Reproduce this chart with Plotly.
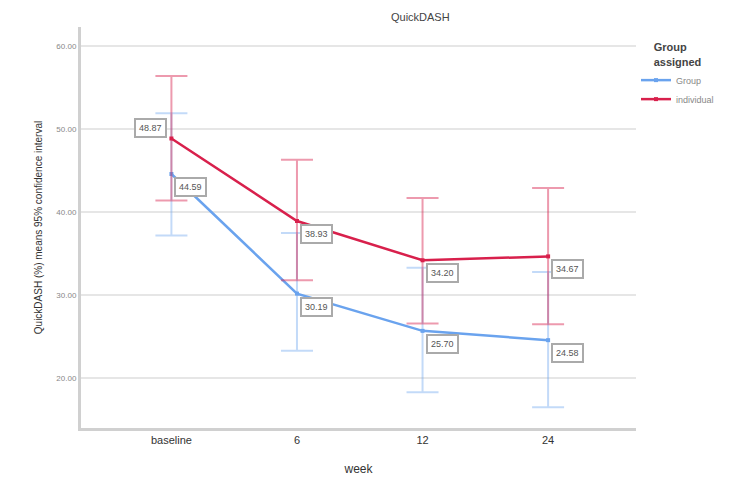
import plotly.graph_objects as go

weeks = ["baseline", "6", "12", "24"]

group_mean = [44.59, 30.19, 25.70, 24.58]
group_upper = [51.90, 37.50, 33.30, 32.80]
group_lower = [37.20, 23.30, 18.30, 16.50]

indiv_mean = [48.87, 38.93, 34.20, 34.67]
indiv_upper = [56.40, 46.30, 41.70, 42.90]
indiv_lower = [41.40, 31.80, 26.60, 26.50]

BLUE = "#6aa3ee"
RED = "#d8204c"

fig = go.Figure()


def add_series(name, mean, upper, lower, color, err_color):
    fig.add_trace(go.Scatter(
        x=weeks, y=mean, name=name, mode="lines+markers",
        line=dict(color=color, width=2.5),
        marker=dict(color=color, size=4, symbol="square"),
        error_y=dict(
            type="data", symmetric=False,
            array=[u - m for u, m in zip(upper, mean)],
            arrayminus=[m - l for m, l in zip(mean, lower)],
            color=err_color, thickness=2, width=16,
        ),
    ))


add_series("Group", group_mean, group_upper, group_lower, BLUE, "rgba(106,163,238,0.40)")
add_series("individual", indiv_mean, indiv_upper, indiv_lower, RED, "rgba(216,32,76,0.45)")

# value boxes next to each point (x given as category index)
for i, w in enumerate(weeks):
    for series, mean in (("group", group_mean), ("indiv", indiv_mean)):
        left = (series == "indiv" and i == 0)
        fig.add_annotation(
            x=i, y=mean[i], text=f"{mean[i]:.2f}", showarrow=False,
            xanchor="right" if left else "left",
            yanchor="bottom" if left else "top",
            xshift=-4 if left else 3, yshift=1 if left else -3,
            font=dict(family="Liberation Sans, Arial", size=9, color="#555"),
            bgcolor="white", bordercolor="#aaaaaa", borderwidth=2, borderpad=3,
        )

fig.update_layout(
    width=731, height=488,
    margin=dict(l=81, r=91, t=27, b=60),
    paper_bgcolor="white", plot_bgcolor="white",
    font=dict(family="Liberation Sans, Arial", color="#333"),
    title=dict(text="QuickDASH", x=0.575, xanchor="center", y=0.965, yanchor="middle",
               font=dict(size=11, color="#444")),
    showlegend=True,
    legend=dict(
        x=1.0, xanchor="left", y=0.975, yanchor="top",
        title=dict(text="<b>Group<br>assigned</b>", side="top center",
                   font=dict(size=11, color="#444")),
        font=dict(size=9, color="#888"),
        itemwidth=30, tracegroupgap=0,
    ),
    xaxis=dict(
        type="category", range=[-0.72, 3.7],
        showgrid=False, showline=True, linecolor="#d0d0d0", linewidth=3,
        ticks="", tickfont=dict(size=11, color="#333"),
        title=dict(text="week", font=dict(size=12, color="#333"), standoff=20),
        zeroline=False,
    ),
    yaxis=dict(
        range=[14, 62.3], tick0=0, dtick=10, tickformat=".2f",
        showgrid=True, gridcolor="#e6e6e6", gridwidth=2,
        showline=True, linecolor="#d0d0d0", linewidth=3,
        ticks="", tickfont=dict(size=8, color="#888"),
        title=dict(text="QuickDASH (%) means 95% confidence interval",
                   font=dict(size=10, color="#333"), standoff=12),
        zeroline=False,
    ),
)

fig.write_html("out.html")
